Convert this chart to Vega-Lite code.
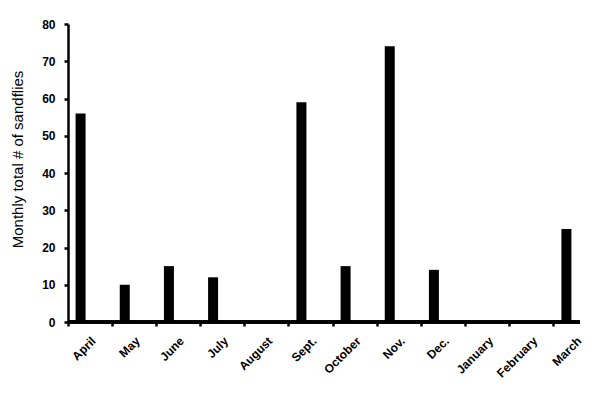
{
  "$schema": "https://vega.github.io/schema/vega-lite/v6.json",
  "autosize": "none",
  "padding": {"left": 68, "top": 24, "right": 20, "bottom": 78},
  "width": 512,
  "height": 298,
  "background": "white",
  "config": {"view": {"stroke": null}},
  "data": {
    "values": [
      {"month": "April", "count": 56},
      {"month": "May", "count": 10},
      {"month": "June", "count": 15},
      {"month": "July", "count": 12},
      {"month": "August", "count": 0},
      {"month": "Sept.", "count": 59},
      {"month": "October", "count": 15},
      {"month": "Nov.", "count": 74},
      {"month": "Dec.", "count": 14},
      {"month": "January", "count": 0},
      {"month": "February", "count": 0},
      {"month": "March", "count": 25}
    ]
  },
  "resolve": {"axis": {"y": "independent"}},
  "layer": [
    {
      "mark": {"type": "bar", "color": "black", "width": 10, "xOffset": -9.5},
      "encoding": {
        "x": {
          "field": "month",
          "type": "nominal",
          "sort": null,
          "scale": {"range": [0, 530], "paddingInner": 0, "paddingOuter": 0},
          "axis": {
            "title": null,
            "domain": false,
            "bandPosition": 0,
            "labelAngle": -45,
            "labelFont": "Liberation Sans",
            "labelFontWeight": "bold",
            "labelFontSize": 12,
            "labelColor": "black",
            "labelPadding": 9,
            "tickColor": "black",
            "tickWidth": 2.5,
            "tickSize": 4
          }
        },
        "y": {
          "field": "count",
          "type": "quantitative",
          "scale": {"domain": [0, 80], "nice": false},
          "axis": {
            "title": "Monthly total # of sandflies",
            "titleFont": "Liberation Sans",
            "titleFontWeight": "normal",
            "titleFontSize": 15,
            "titleColor": "black",
            "titleX": -51,
            "titleY": 135,
            "titleAngle": -90,
            "titleAlign": "center",
            "titleBaseline": "middle",
            "values": [0, 10, 20, 30, 40, 50, 60, 70, 80],
            "labelOverlap": false,
            "grid": false,
            "domainColor": "black",
            "domainWidth": 2.5,
            "tickColor": "black",
            "tickWidth": 2.5,
            "tickSize": 4,
            "labelFont": "Liberation Sans Narrow, Liberation Sans",
            "labelFontWeight": "bold",
            "labelFontSize": 12,
            "labelColor": "black",
            "labelPadding": 9
          }
        }
      }
    },
    {
      "mark": {"type": "rule", "color": "black", "strokeWidth": 2.5},
      "encoding": {
        "y": {"datum": 0, "type": "quantitative", "axis": null}
      }
    }
  ]
}
